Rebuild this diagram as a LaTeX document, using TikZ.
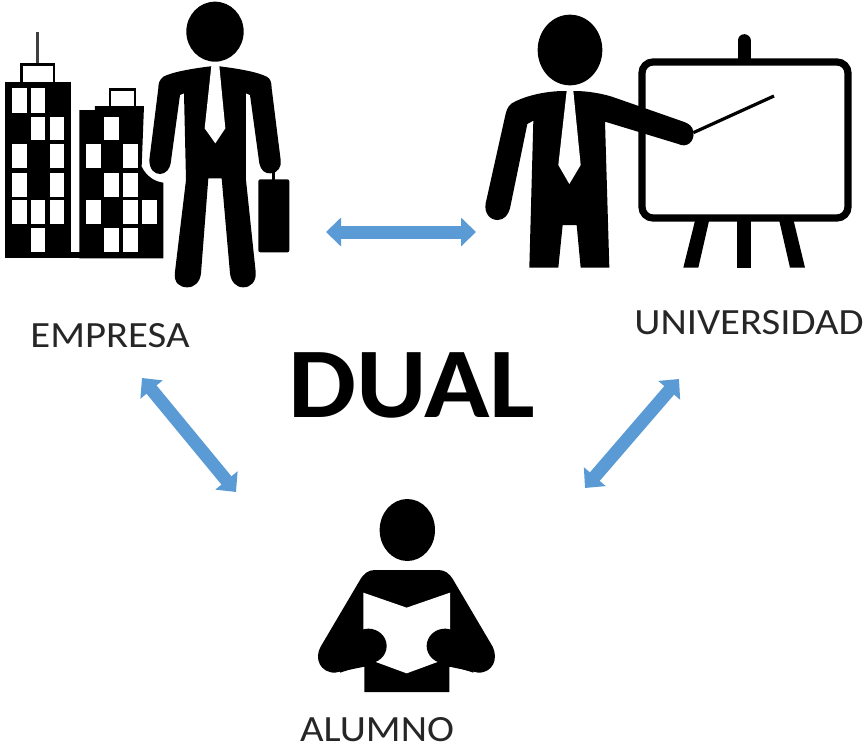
\documentclass[tikz,border=0pt]{standalone}
\usepackage{fontspec}
\setmainfont{Carlito}
\usetikzlibrary{arrows.meta}
\definecolor{arrowblue}{HTML}{5B9BD5}
\definecolor{labelgray}{HTML}{262626}
\tikzset{
  px/.style={x=1pt,y=-1pt},
  zoomgrid/.style={x=.33333pt,y=-.33333pt},
  label text/.style={inner sep=0pt,text=labelgray,font=\fontsize{37}{40}\selectfont,xscale=1.1},
  link/.style={{Triangle[length=15pt,width=28pt]}-{Triangle[length=15pt,width=28pt]},draw=arrowblue,line width=13pt},
}
\newcommand{\win}[4]{\fill[white] (#1,#3) rectangle (#2,#4);}
\begin{document}
\begin{tikzpicture}[px]
\useasboundingbox (0,0) rectangle (865,750);

% ---------- EMPRESA icon (drawn in 3x zoom grid)
\begin{scope}[zoomgrid]
  % antenna and roof towers
  \draw[line width=2.5pt,black!75] (112,95) -- (112,195);
  \draw[line width=2.6pt] (65,248) -- (65,194) -- (162,194) -- (162,248);
  \draw[line width=2.6pt] (330,320) -- (330,268) -- (405,268) -- (405,320);
  % buildings
  \fill[black] (14,245) rectangle (212,775);
  \fill[black] (212,755) rectangle (240,775);
  \fill[black] (238,330) -- (285,330) -- (285,318) -- (432,318) -- (425,500)
     .. controls (440,530) and (465,545) .. (490,548) -- (490,775) -- (238,775) -- cycle;
  % windows, tower 1
  \foreach \a/\b/\c/\d in {35/80/265/340, 92/135/265/340,
      92/135/350/420, 150/192/350/420,
      35/80/432/505, 150/192/432/505,
      35/80/518/590, 150/192/518/590,
      35/80/600/672, 92/135/600/672, 150/192/600/672,
      92/135/685/755}{\win{\a}{\b}{\c}{\d}}
  % windows, tower 2
  \foreach \a/\b/\c/\d in {312/358/350/420,
      258/302/432/505, 368/414/432/505,
      312/358/518/590, 368/414/518/590,
      258/302/600/672, 368/414/600/672, 425/472/600/672,
      312/358/685/755, 368/414/685/755}{\win{\a}{\b}{\c}{\d}}
  % man
  \fill[black] (645,95) ellipse [x radius=86,y radius=90];
  \fill[black] (640,198) .. controls (580,205) and (520,215) .. (490,230)
     .. controls (478,240) and (475,250) .. (475,265)
     -- (448,480) .. controls (448,510) and (465,522) .. (480,522)
     .. controls (498,522) and (510,505) .. (512,490)
     -- (540,285) -- (552,280) -- (558,540) -- (525,815)
     .. controls (520,850) and (540,862) .. (562,862)
     .. controls (585,862) and (600,845) .. (603,820)
     -- (625,535) -- (665,535) -- (690,820)
     .. controls (693,845) and (708,862) .. (730,862)
     .. controls (752,862) and (770,845) .. (767,815)
     -- (738,540) -- (738,280) -- (750,285)
     -- (778,490) .. controls (782,510) and (795,522) .. (812,520)
     .. controls (835,518) and (845,500) .. (842,480)
     -- (815,265) .. controls (815,245) and (810,235) .. (800,230)
     .. controls (770,215) and (710,205) .. (650,198) -- cycle;
  % tie
  \fill[white] (634,198) -- (658,198) -- (676,385) -- (646,430) -- (614,385) -- cycle;
  % briefcase
  \draw[line width=3pt] (820,515) -- (820,545);
  \fill[black,rounded corners=2pt] (775,538) rectangle (868,757);
\end{scope}

% ---------- UNIVERSIDAD icon
\begin{scope}[zoomgrid,xshift=470pt]
  % easel
  \draw[line width=13pt,line cap=round] (822,122) -- (822,180);
  \fill[black] (802,650) rectangle (843,803);
  \fill[black] (678,650) -- (720,650) -- (685,803) -- (640,803) -- cycle;
  \fill[black] (925,650) -- (968,650) -- (1005,803) -- (960,803) -- cycle;
  \draw[line width=7.2pt,rounded corners=11pt,fill=white] (516,186) rectangle (1134,654);
  % pointer
  \draw[line width=3.2pt] (670,398) -- (912,288);
  % head
  \fill[black] (300,150) ellipse [x radius=97,y radius=106];
  % body
  \fill[black] (285,273) .. controls (220,273) and (160,290) .. (125,310)
     .. controls (112,320) and (108,335) .. (105,350)
     -- (47,610) .. controls (42,640) and (60,660) .. (83,660)
     .. controls (102,660) and (115,645) .. (120,625)
     -- (172,372) -- (190,362) -- (178,803) -- (265,803) -- (278,675) -- (320,675)
     -- (332,803) -- (418,803) -- (405,365)
     -- (625,432) .. controls (650,445) and (675,425) .. (670,395)
     .. controls (668,378) and (655,370) .. (640,365)
     -- (440,295) .. controls (400,280) and (350,273) .. (315,273) -- cycle;
  % tie
  \fill[white] (290,273) -- (310,273) -- (332,495) -- (298,552) -- (265,495) -- cycle;
\end{scope}

% ---------- ALUMNO icon
\begin{scope}[zoomgrid,xshift=290pt,yshift=-490pt]
  \fill[black] (352,120) ellipse [x radius=83,y radius=93];
  \fill[black] (255,240) -- (445,240) .. controls (465,240) and (478,250) .. (490,270)
     -- (608,470) .. controls (625,505) and (610,548) .. (565,548)
     -- (478,530) -- (478,606) -- (223,606) -- (223,530) -- (135,548)
     .. controls (90,548) and (72,505) .. (92,470)
     -- (210,270) .. controls (222,250) and (235,240) .. (255,240) -- cycle;
  \fill[white] (220,308) -- (350,353) -- (480,308) -- (480,425) -- (445,515) -- (350,550)
     -- (255,515) -- (220,425) -- cycle;
  \fill[black] (235,468) ellipse [x radius=55,y radius=52];
  \fill[black] (465,468) ellipse [x radius=55,y radius=52];
  \fill[black] (150,470) -- (235,416) -- (235,520) -- (150,548) -- cycle;
  \fill[black] (550,470) -- (465,416) -- (465,520) -- (550,548) -- cycle;
\end{scope}

% ---------- labels
\node[label text] (empresa) at (110,336) {EMPRESA};
\node[label text] (universidad) at (749,323) {UNIVERSIDAD};
\node[label text] (alumno) at (377,730) {ALUMNO};
\node[inner sep=0pt,text=black,font=\fontsize{100}{110}\selectfont\bfseries,xscale=1.08] (dual) at (412,385) {DUAL};

% ---------- connectors
\coordinate (empresaE) at (326,232);
\coordinate (uniW) at (476,232);
\coordinate (empresaS) at (142,378);
\coordinate (alumnoNW) at (236,492);
\coordinate (uniS) at (679,379);
\coordinate (alumnoNE) at (585,488);
\draw[link] (empresaE) -- (uniW);
\draw[link] (empresaS) -- (alumnoNW);
\draw[link] (uniS) -- (alumnoNE);
\end{tikzpicture}
\end{document}
